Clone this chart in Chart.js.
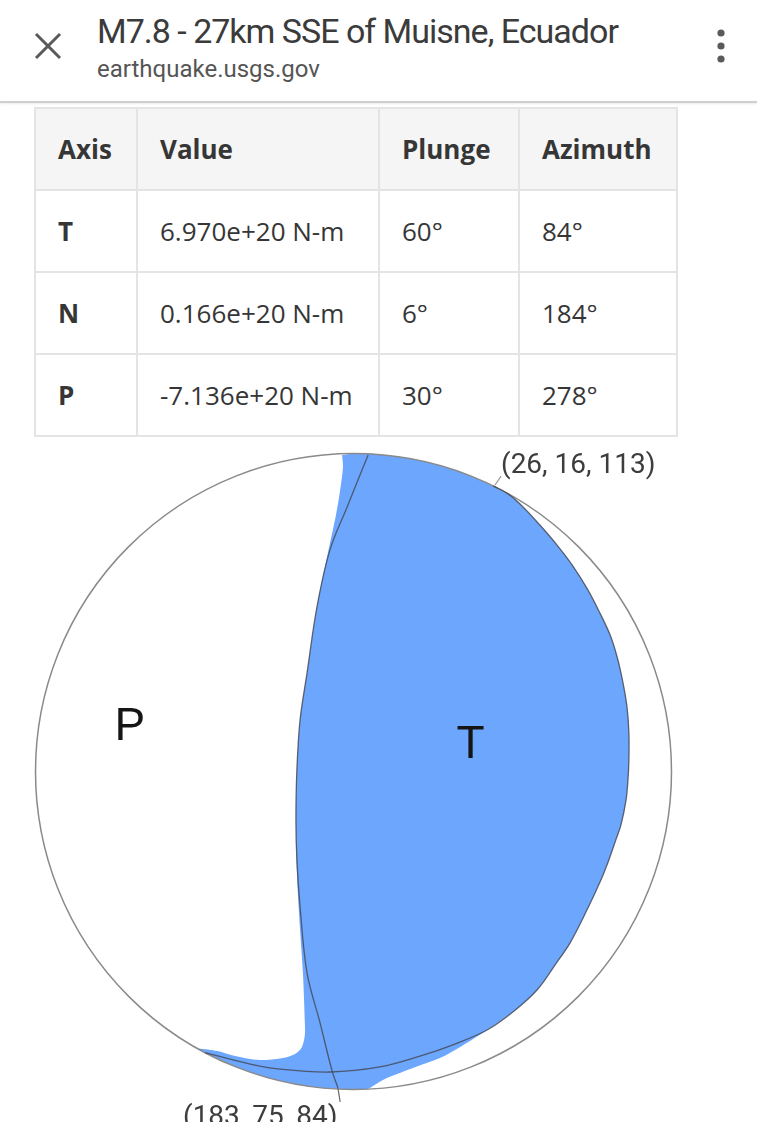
<!DOCTYPE html>
<html>
<head>
<meta charset="utf-8">
<script src="https://cdn.jsdelivr.net/npm/chart.js@4.4.1/dist/chart.umd.min.js"></script>
<style>
html,body{margin:0;padding:0;background:#fff;width:757px;height:1122px;overflow:hidden;position:relative;}
#close{position:absolute;left:34px;top:32px;}
#title{position:absolute;left:97px;top:11px;font-family:Roboto;font-size:34px;letter-spacing:-1px;color:#3b3b3b;white-space:nowrap;line-height:40px;}
#sub{position:absolute;left:97px;top:55px;font-family:Roboto;font-size:24px;color:#555;line-height:28px;white-space:nowrap;}
#menu{position:absolute;left:714px;top:26px;}
#bar{position:absolute;left:0;top:101px;width:757px;height:2px;background:#cfcfcf;box-shadow:0 1px 2px rgba(0,0,0,0.08);}
#tbl{position:absolute;left:34px;top:107px;border-collapse:collapse;table-layout:fixed;font-family:'Open Sans';font-size:26px;color:#363636;}
#tbl td,#tbl th{border:2px solid #e4e4e4;height:80px;padding:0 0 0 22px;text-align:left;vertical-align:middle;white-space:nowrap;}
#tbl th{background:#f5f5f5;font-weight:bold;}
#tbl td.ax{font-weight:bold;}
#wrap{position:absolute;left:0;top:440px;width:757px;height:682px;}
</style>
</head>
<body>
<svg id="close" width="28" height="28" viewBox="0 0 28 28"><line x1="2" y1="2" x2="26" y2="26" stroke="#5a5a5a" stroke-width="3"/><line x1="26" y1="2" x2="2" y2="26" stroke="#5a5a5a" stroke-width="3"/></svg>
<div id="title">M7.8 - 27km SSE of Muisne, Ecuador</div>
<div id="sub">earthquake.usgs.gov</div>
<svg id="menu" width="14" height="40" viewBox="0 0 14 40"><circle cx="7" cy="7" r="3.6" fill="#5a5a5a"/><circle cx="7" cy="20" r="3.6" fill="#5a5a5a"/><circle cx="7" cy="33" r="3.6" fill="#5a5a5a"/></svg>
<div id="bar"></div>
<table id="tbl"><colgroup><col style="width:102px"><col style="width:242px"><col style="width:140px"><col style="width:158px"></colgroup><thead></thead><tbody></tbody></table>
<div id="wrap"><canvas id="c" width="757" height="682"></canvas></div>
<script>
// ---- table data ----
const tableHeaders = ['Axis', 'Value', 'Plunge', 'Azimuth'];
const tableAxes = ['T', 'N', 'P'];
const tableValues = ['6.970e+20', '0.166e+20', '-7.136e+20'];
const tablePlunge = [60, 6, 30];
const tableAzimuth = [84, 184, 278];

// ---- nodal planes (strike, dip, rake) ----
const shallowPlane = [26, 16, 113];
const steepPlane = [183, 75, 84];

// ---- tension (T) region outline, unit-circle coordinates ----
const tRegionX = [-0.036,-0.033,-0.042,-0.055,-0.083,-0.115,-0.146,-0.168,-0.178,-0.181,-0.178,-0.168,-0.159,-0.153,-0.153,-0.162,-0.184,-0.222,-0.278,-0.325,-0.382,-0.429,-0.489,
  -0.429,-0.357,-0.278,-0.200,-0.121,-0.042,0.042,0.061,0.105,0.187,0.272,0.341,
  0.420,0.505,0.577,0.634,0.681,0.731,0.778,0.803,0.825,0.841,0.857,0.863,0.866,0.866,0.860,0.847,0.829,0.807,0.775,0.737,0.690,0.640,0.586,0.530,0.486,0.439,
  0.366,0.288,0.209,0.131,0.052,0.000,-0.036];
const tRegionY = [0.995,0.958,0.885,0.807,0.675,0.517,0.310,0.162,0.005,-0.153,-0.319,-0.498,-0.634,-0.791,-0.829,-0.866,-0.888,-0.901,-0.907,-0.904,-0.892,-0.879,-0.873,
  -0.903,-0.934,-0.961,-0.980,-0.993,-0.999,-0.999,-0.989,-0.964,-0.932,-0.901,-0.863,
  -0.813,-0.753,-0.687,-0.608,-0.539,-0.442,-0.341,-0.278,-0.215,-0.168,-0.090,-0.027,0.036,0.121,0.203,0.281,0.360,0.429,0.498,0.571,0.646,0.712,0.775,0.835,0.873,0.898,
  0.931,0.958,0.978,0.991,0.999,1.000,0.995];

// ---- nodal plane traces ----
const shallowX = [-0.467,-0.325,-0.231,-0.074,0.083,0.209,0.319,0.420,0.505,0.577,0.634,0.681,0.731,0.778,0.803,0.825,0.841,0.857,0.863,0.866,0.866,0.860,0.847,0.829,0.807,0.775,0.737,0.690,0.640,0.586,0.530,0.486,0.439];
const shallowY = [-0.884,-0.920,-0.936,-0.945,-0.929,-0.895,-0.857,-0.813,-0.753,-0.687,-0.608,-0.539,-0.442,-0.341,-0.278,-0.215,-0.168,-0.090,-0.027,0.036,0.121,0.203,0.281,0.360,0.429,0.498,0.571,0.646,0.712,0.775,0.835,0.873,0.898];
const steepX = [0.046,0.014,-0.020,-0.074,-0.115,-0.146,-0.168,-0.178,-0.181,-0.178,-0.168,-0.146,-0.105,-0.068,-0.049];
const steepY = [0.995,0.917,0.832,0.697,0.517,0.310,0.162,0.005,-0.153,-0.278,-0.426,-0.634,-0.791,-0.939,-0.995];

// ---- label leaders ----
const leaderTopX = [0.445, 0.464];
const leaderTopY = [0.901, 0.929];
const leaderBottomX = [-0.049, -0.042];
const leaderBottomY = [-0.995, -1.039];

// ---- label anchors ----
const labelTexts = ['P', 'T', '(' + shallowPlane.join(', ') + ')', '(' + steepPlane.join(', ') + ')'];
const labelX = [-0.703, 0.368, 0.464, -0.536];
const labelY = [0.099, 0.042, 0.939, -1.112];

// build table
(function(){
  const thead = document.querySelector('#tbl thead');
  const tbody = document.querySelector('#tbl tbody');
  const hr = document.createElement('tr');
  tableHeaders.forEach(h => { const th = document.createElement('th'); th.textContent = h; hr.appendChild(th); });
  thead.appendChild(hr);
  tableAxes.forEach((a, i) => {
    const tr = document.createElement('tr');
    const cells = [a, tableValues[i] + ' N-m', tablePlunge[i] + '°', tableAzimuth[i] + '°'];
    cells.forEach((c, j) => { const td = document.createElement('td'); td.textContent = c; if (j === 0) td.className = 'ax'; tr.appendChild(td); });
    tbody.appendChild(tr);
  });
})();

const zip = (xs, ys) => xs.map((x, i) => ({x, y: ys[i]}));

// layout: ball centre and radius in canvas pixels
const CX = 353.5, CY = 331.5, RPX = 318, W = 757, H = 682;

const ballPlugin = {
  id: 'ball',
  afterDatasetDraw(chart, args) {
    if (args.index !== 0) return;
    const {x, y} = chart.scales;
    const ctx = chart.ctx;
    const cx = x.getPixelForValue(0), cy = y.getPixelForValue(0);
    const r = x.getPixelForValue(1) - cx;
    ctx.save();
    ctx.beginPath();
    ctx.arc(cx, cy, r, 0, Math.PI * 2);
    ctx.strokeStyle = '#8a8a8a';
    ctx.lineWidth = 1.5;
    ctx.stroke();
    ctx.restore();
  },
  afterDraw(chart) {
    const {x, y} = chart.scales;
    const ctx = chart.ctx;
    ctx.save();
    labelTexts.forEach((t, i) => {
      const px = x.getPixelForValue(labelX[i]), py = y.getPixelForValue(labelY[i]);
      if (i < 2) {
        ctx.font = '46px "Liberation Sans", Arial, sans-serif';
        ctx.fillStyle = '#151515';
        ctx.textAlign = 'center';
      } else {
        ctx.font = '28px Roboto, sans-serif';
        ctx.fillStyle = '#3d3d3d';
        ctx.textAlign = 'left';
      }
      ctx.textBaseline = 'alphabetic';
      ctx.fillText(t, px, py);
    });
    ctx.restore();
  }
};

const lineStyle = {showLine: true, pointRadius: 0, tension: 0.35, fill: false};

new Chart(document.getElementById('c'), {
  type: 'scatter',
  data: {
    datasets: [
      Object.assign({}, lineStyle, {data: zip(tRegionX, tRegionY), backgroundColor: '#6ca6fd', borderColor: 'rgba(0,0,0,0)', borderWidth: 0, fill: 'shape', tension: 0.3, order: 3}),
      Object.assign({}, lineStyle, {data: zip(shallowX, shallowY), borderColor: 'rgba(70,74,88,0.85)', borderWidth: 1.3, order: 1}),
      Object.assign({}, lineStyle, {data: zip(steepX, steepY), borderColor: 'rgba(70,74,88,0.85)', borderWidth: 1.3, order: 1}),
      Object.assign({}, lineStyle, {data: zip(leaderTopX, leaderTopY), borderColor: '#9a9a9a', borderWidth: 1.2, tension: 0, order: 1}),
      Object.assign({}, lineStyle, {data: zip(leaderBottomX, leaderBottomY), borderColor: '#6a6a6a', borderWidth: 1.2, tension: 0, order: 1})
    ]
  },
  options: {
    responsive: false,
    animation: false,
    events: [],
    layout: {padding: 0},
    plugins: {legend: {display: false}, tooltip: {enabled: false}},
    scales: {
      x: {type: 'linear', display: false, min: -CX / RPX, max: (W - CX) / RPX},
      y: {type: 'linear', display: false, min: -(H - CY) / RPX, max: CY / RPX}
    }
  },
  plugins: [ballPlugin]
});
</script>
</body>
</html>
